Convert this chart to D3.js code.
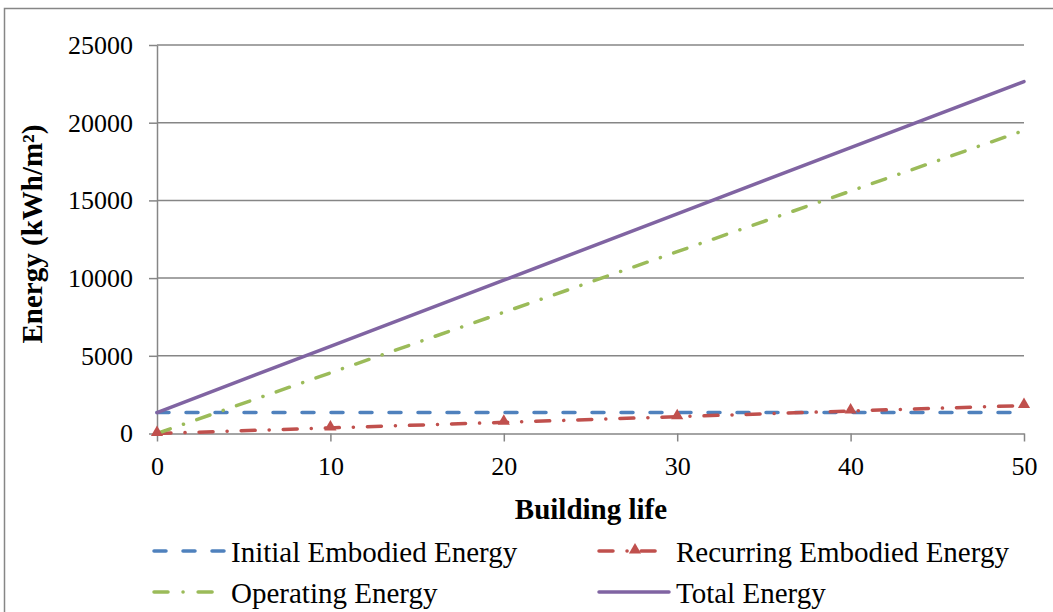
<!DOCTYPE html>
<meta charset="utf-8">
<style>
body { margin: 0; background: #fff; }
</style>
<body>
<script src="https://d3js.org/d3.v7.min.js"></script>
<script>

// data, one point every 10 years
const years = [0, 10, 20, 30, 40, 50];
const initialEmbodied = [1350, 1350, 1350, 1350, 1350, 1350];
const recurringEmbodied = [0, 360, 720, 1080, 1450, 1800];
const operating = [0, 3900, 7800, 11700, 15600, 19500];
const totalEnergy = [1350, 5610, 9870, 14130, 18400, 22650];
const yTicks = [0, 5000, 10000, 15000, 20000, 25000];
const xTicks = [0, 10, 20, 30, 40, 50];

const W = 1053, H = 612;
const axisGray = "#868686";
const serif = "Liberation Serif";

const series = [
   { name: "Initial Embodied Energy", values: initialEmbodied, color: "#4F81BD", dash: "12,17", marker: false },
   { name: "Recurring Embodied Energy", values: recurringEmbodied, color: "#C0504D", dash: "14,14,0.1,14", marker: true },
   { name: "Operating Energy", values: operating, color: "#9BBB59", dash: "14,14,0.1,14", marker: false },
   { name: "Total Energy", values: totalEnergy, color: "#8064A2", dash: null, marker: false }
];

const svg = d3.select("body").append("svg")
   .attr("width", W)
   .attr("height", H);

// chart border (runs off the right and bottom edge)
svg.append("rect")
   .attr("x", 4.5).attr("y", 8.5)
   .attr("width", W + 10).attr("height", H + 10)
   .attr("fill", "none")
   .attr("stroke", axisGray)
   .attr("stroke-width", 1.5);

const xScale = d3.scaleLinear().domain([0, 50]).range([157, 1024]);
const yScale = d3.scaleLinear().domain([0, 25000]).range([433.5, 45]);

// horizontal gridlines
svg.append("g")
   .selectAll("line")
   .data(yTicks.slice(1))
   .join("line")
   .attr("x1", xScale(0)).attr("x2", xScale(50))
   .attr("y1", d => yScale(d)).attr("y2", d => yScale(d))
   .attr("stroke", axisGray)
   .attr("stroke-width", 1.5);

// y axis
const yAxis = svg.append("g")
   .attr("transform", `translate(${xScale(0)},0)`)
   .call(d3.axisLeft(yScale).tickValues(yTicks).tickFormat(d3.format("d"))
      .tickSize(8).tickPadding(16).tickSizeOuter(0));

// x axis
const xAxis = svg.append("g")
   .attr("transform", `translate(0,${yScale(0)})`)
   .call(d3.axisBottom(xScale).tickValues(xTicks).tickFormat(d3.format("d"))
      .tickSize(8).tickPadding(15).tickSizeOuter(0));

[xAxis, yAxis].forEach(ax => {
   ax.select(".domain").attr("stroke", axisGray).attr("stroke-width", 1.5);
   ax.selectAll(".tick line").attr("stroke", axisGray).attr("stroke-width", 1.5);
   ax.selectAll(".tick text")
      .attr("fill", "#000")
      .style("font-family", serif)
      .style("font-size", "26px");
});

const lineGen = d3.line()
   .x((d, i) => xScale(years[i]))
   .y(d => yScale(d));

// lines
series.forEach(s => {
   svg.append("path")
      .datum(s.values)
      .attr("d", lineGen)
      .attr("fill", "none")
      .attr("stroke", s.color)
      .attr("stroke-width", 3.5)
      .attr("stroke-linecap", "round")
      .attr("stroke-dasharray", s.dash);
});

const triangle = d3.symbol().type(d3.symbolTriangle).size(64);

// triangle markers on recurring energy
svg.append("g")
   .selectAll("path")
   .data(recurringEmbodied)
   .join("path")
   .attr("d", triangle)
   .attr("transform", (d, i) => `translate(${xScale(years[i])},${yScale(d) - 1})`)
   .attr("fill", "#C0504D");

// axis titles
svg.append("text")
   .attr("x", 591).attr("y", 519)
   .attr("text-anchor", "middle")
   .style("font-family", serif)
   .style("font-size", "29px")
   .style("font-weight", "bold")
   .text("Building life");

svg.append("text")
   .attr("transform", "translate(42,234) rotate(-90)")
   .attr("text-anchor", "middle")
   .style("font-family", serif)
   .style("font-size", "29px")
   .style("font-weight", "bold")
   .text("Energy (kWh/m²)");

// legend
const legendPos = [
   { x: 154, y: 551, len: 71, dash: "12,17" },
   { x: 599, y: 551, len: 59, dash: "14,14,0.1,14" },
   { x: 154, y: 592, len: 59, dash: "14,15,0.1,15" },
   { x: 599, y: 592, len: 70, dash: null }
];

series.forEach((s, i) => {
   const p = legendPos[i];
   const g = svg.append("g").attr("transform", `translate(${p.x},${p.y})`);
   g.append("line")
      .attr("x1", 0).attr("x2", p.len)
      .attr("y1", 0).attr("y2", 0)
      .attr("stroke", s.color)
      .attr("stroke-width", 3.5)
      .attr("stroke-linecap", "round")
      .attr("stroke-dasharray", p.dash);
   if (s.marker) {
      g.append("path")
         .attr("d", triangle)
         .attr("transform", "translate(36,-1)")
         .attr("fill", s.color);
   }
   g.append("text")
      .attr("x", 77).attr("y", 11)
      .style("font-family", serif)
      .style("font-size", "29px")
      .text(s.name);
});

</script>
</body>
</html>
